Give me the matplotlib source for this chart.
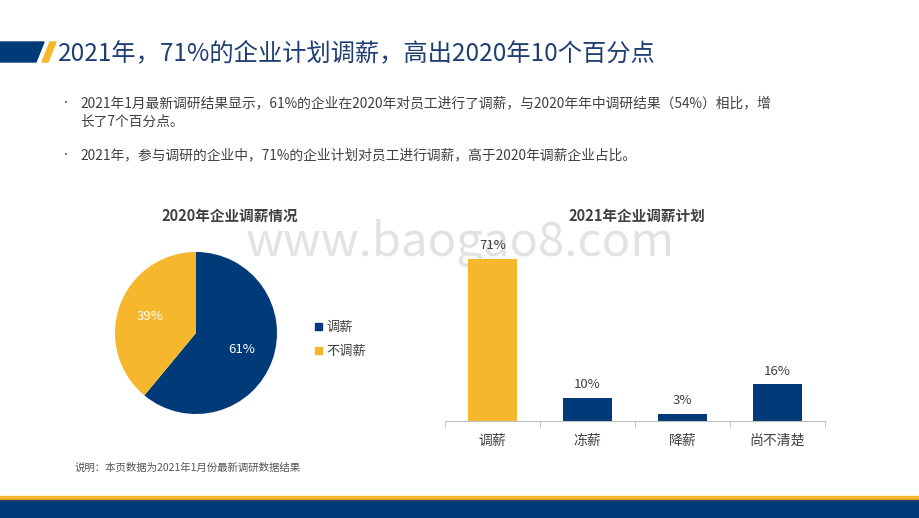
import matplotlib
matplotlib.use("Agg")
import matplotlib.pyplot as plt
from matplotlib.patches import Polygon, Rectangle

plt.rcParams['font.family'] = ['Noto Sans CJK SC', 'DejaVu Sans']

pie_labels = ['调薪', '不调薪']
pie_values = [61, 39]
bar_cats = ['调薪', '冻薪', '降薪', '尚不清楚']
bar_values = [71, 10, 3, 16]

NAVY = '#003A78'
GOLD = '#F6B72D'
W, H = 920, 518
fig = plt.figure(figsize=(9.2, 5.18), dpi=100)

def fx(x): return x / W
def fy(y): return 1 - y / H

bg = fig.add_axes([0, 0, 1, 1]); bg.set_xlim(0, W); bg.set_ylim(H, 0); bg.axis('off')
bg.add_patch(Polygon([[0, 42], [44, 42], [36, 62], [0, 62]], color=NAVY))
bg.add_patch(Polygon([[42, 62], [50, 42], [56, 42], [48, 62]], color=GOLD))
bg.add_patch(Rectangle((0, 496), W, 4, color=GOLD))
bg.add_patch(Rectangle((0, 500), W, 2, color='#26415E'))
bg.add_patch(Rectangle((0, 502), W, 16, color=NAVY))
bg.text(58, 53, '2021年，71%的企业计划调薪，高出2020年10个百分点', fontsize=17.5, color='#1F3F73', va='center')
bg.text(60, 103, '•', fontsize=7, color='#555555', va='center')
bg.text(80, 103, '2021年1月最新调研结果显示，61%的企业在2020年对员工进行了调薪，与2020年年中调研结果（54%）相比，增',
        fontsize=9.9, color='#404040', va='center')
bg.text(80, 122, '长了7个百分点。', fontsize=9.9, color='#404040', va='center')
bg.text(60, 155, '•', fontsize=7, color='#555555', va='center')
bg.text(80, 155, '2021年，参与调研的企业中，71%的企业计划对员工进行调薪，高于2020年调薪企业占比。',
        fontsize=9.9, color='#404040', va='center')
bg.text(230, 216, '2020年企业调薪情况', fontsize=10.5, fontweight='bold', style='italic', color='#404040', ha='center', va='center')
bg.text(637, 216, '2021年企业调薪计划', fontsize=10.5, fontweight='bold', style='italic', color='#404040', ha='center', va='center')
bg.text(75, 468, '说明：本页数据为2021年1月份最新调研数据结果', fontsize=7.5, color='#555555', va='center')
bg.text(460, 243, 'www.baogao8.com', fontsize=34, color='#E2E2E2', ha='center', va='center', zorder=0)

cx, cy, r = 196, 333, 81
pax = fig.add_axes([fx(cx - r), fy(cy + r), 2 * r / W, 2 * r / H])
pax.pie(pie_values, colors=[NAVY, GOLD], startangle=90, counterclock=False,
        autopct='%d%%', pctdistance=0.6, radius=1,
        textprops=dict(color='white', fontsize=9.5))
pax.set_aspect('auto')
pax.set_xlim(-1, 1); pax.set_ylim(-1, 1)
for i, (lab, c) in enumerate(zip(pie_labels, [NAVY, GOLD])):
    y = 327 + i * 24
    bg.add_patch(Rectangle((315, y - 4), 7, 7, color=c))
    bg.text(326, y, lab, fontsize=9.5, color='#404040', va='center')

x0, x1, ybase, ytop = 445, 825, 421, 259
bax = fig.add_axes([fx(x0), fy(ybase), (x1 - x0) / W, (ybase - ytop) / H])
xs = range(len(bar_cats))
bax.bar(xs, bar_values, width=0.51, color=[GOLD, NAVY, NAVY, NAVY])
bax.set_xlim(-0.5, 3.5)
bax.set_ylim(0, 71)
for x, v in zip(xs, bar_values):
    bax.text(x, v + 3, f'{v}%', ha='center', va='bottom', fontsize=9.5, color='#404040', clip_on=False)
bax.set_xticks(list(xs))
bax.set_xticklabels(bar_cats, fontsize=10, color='#404040')
bax.set_xticks([-0.5, 0.5, 1.5, 2.5, 3.5], minor=True)
bax.tick_params(axis='x', which='major', length=0, pad=9)
bax.tick_params(axis='x', which='minor', length=5, color='#BFBFBF')
bax.set_yticks([])
for s in ['top', 'right', 'left']:
    bax.spines[s].set_visible(False)
bax.spines['bottom'].set_color('#BFBFBF')
bax.patch.set_alpha(0)

fig.savefig('out.png', dpi=100)
